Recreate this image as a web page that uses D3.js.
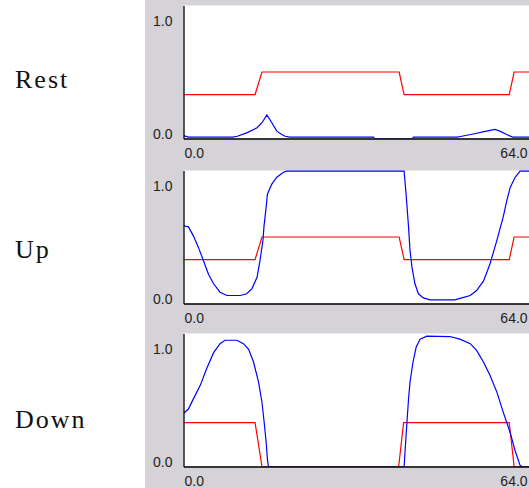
<!DOCTYPE html>
<html>
<head>
  <script src="https://cdnjs.cloudflare.com/ajax/libs/d3/7.8.5/d3.min.js" type="text/javascript"></script>
  <style>
    body { margin: 0; background: #fff; }
    svg { display: block; }
  </style>
</head>
<body>
  <svg id="chart" style="width:529px;height:488px;"></svg>
  <script>

// panel names
var panelNames = ["Rest", "Up", "Down"];

// red target curves [time, value]
var restTarget = [[0,0.39],[14.5,0.39],[15.9,0.59],[43.7,0.59],[44.7,0.39],[66,0.39],[67,0.59],[72,0.59]];
var upTarget   = [[0,0.39],[14.5,0.39],[15.9,0.59],[43.7,0.59],[44.7,0.39],[66,0.39],[67,0.59],[72,0.59]];
var downTarget = [[0,0.39],[14.5,0.39],[15.9,0],[43.6,0],[44.6,0.39],[66,0.39],[67,0],[72,0]];

// blue output curves [time, value]
var restOutput = [[0,0.025],[1,0.012],[10,0.012],[10.9,0.02],[12.8,0.05],[14.9,0.095],[15.9,0.14],[16.9,0.21],
  [17.9,0.14],[18.9,0.065],[19.9,0.035],[20.6,0.02],[21.5,0.012],[38.5,0.012],[38.7,0],[46.4,0],[46.6,0.012],
  [55.5,0.012],[56.4,0.02],[58.7,0.04],[61.4,0.065],[63.1,0.08],[64.1,0.065],[65.5,0.035],[66.7,0.012],[72,0.012]];

var upOutput = [[0,0.69],[1,0.68],[2,0.6],[3,0.5],[4.05,0.38],[5.06,0.26],[6.1,0.175],[7.4,0.1],[8.8,0.071],
  [11.5,0.071],[12.8,0.086],[13.85,0.13],[14.9,0.233],[15.5,0.38],[16.1,0.56],[16.3,0.68],[16.75,0.855],
  [17,0.97],[17.9,1.06],[18.9,1.12],[20.25,1.165],[20.9,1.175],[44.7,1.175],[45.1,0.97],[45.6,0.68],
  [45.9,0.47],[46.3,0.32],[46.9,0.175],[47.6,0.086],[48.6,0.05],[50,0.033],[55,0.033],[56.4,0.05],
  [58.1,0.071],[59.4,0.115],[60.8,0.2],[62.1,0.35],[63.5,0.56],[64.8,0.77],[65.5,0.91],[66.2,1.03],
  [67.2,1.12],[68.2,1.175],[72,1.175]];

var downOutput = [[0,0.47],[1,0.51],[2,0.6],[3.4,0.72],[4.7,0.87],[6.1,1.01],[7.4,1.09],[8.4,1.12],
  [10.8,1.12],[12.15,1.09],[13.2,1.04],[14.2,0.925],[15.2,0.75],[15.9,0.57],[16.35,0.39],[16.75,0.215],
  [17,0.068],[17.2,0],[44.7,0],[45.1,0.275],[45.6,0.6],[45.9,0.75],[46.5,0.925],[47.15,1.06],[47.95,1.13],
  [49.3,1.156],[54,1.153],[56,1.13],[58.1,1.09],[59.4,1.03],[60.8,0.925],[62.1,0.81],[63.5,0.66],
  [64.8,0.48],[66.2,0.3],[67.2,0.14],[68.2,0.01],[68.6,0],[72,0]];

var targets = [restTarget, upTarget, downTarget];
var outputs = [restOutput, upOutput, downOutput];

var yTicks = [0, 1];
var xTicks = [0, 64];

var svg = d3.select("#chart")
    .attr("width", 529)
    .attr("height", 488);

// gray frame behind the plots
svg.append("rect")
    .attr("x", 145).attr("y", 0)
    .attr("width", 384).attr("height", 488)
    .attr("fill", "#d6d3d8");

var plotLeft = 183.5;
var plotTops = [5.5, 170.5, 333.5];
var plotH = 133;
var labelY = [88, 258, 428];

var x = d3.scaleLinear()
    .domain([0, 71])
    .range([plotLeft, plotLeft + 71 * 4.935]);

panelNames.forEach(function(name, i) {
  var top = plotTops[i];
  var y = d3.scaleLinear()
      .domain([0, 1.18])
      .range([top + plotH, top]);

  var g = svg.append("g");

  g.append("rect")
      .attr("x", plotLeft).attr("y", top)
      .attr("width", 529 - plotLeft).attr("height", plotH)
      .attr("fill", "#fff");

  g.append("clipPath").attr("id", "clip" + i)
    .append("rect")
      .attr("x", plotLeft).attr("y", top - 1)
      .attr("width", 529 - plotLeft).attr("height", plotH + 1);

  var line = d3.line()
      .x(function(d) { return x(d[0]); })
      .y(function(d) { return y(d[1]); });

  g.append("path")
      .datum(targets[i])
      .attr("clip-path", "url(#clip" + i + ")")
      .attr("fill", "none")
      .attr("stroke", "#ff0000")
      .attr("stroke-width", 1.2)
      .attr("d", line);

  g.append("path")
      .datum(outputs[i])
      .attr("clip-path", "url(#clip" + i + ")")
      .attr("fill", "none")
      .attr("stroke", "#0000ff")
      .attr("stroke-width", 1.2)
      .attr("d", line);

  // axes
  var yAxis = g.append("g")
      .attr("transform", "translate(" + plotLeft + ",0)")
      .call(d3.axisLeft(y).tickValues(yTicks).tickSize(0).tickPadding(11).tickFormat(d3.format(".1f")));

  var xAxis = g.append("g")
      .attr("transform", "translate(0," + (top + plotH) + ")")
      .call(d3.axisBottom(x).tickValues(xTicks).tickSize(0).tickFormat(d3.format(".1f")));

  [yAxis, xAxis].forEach(function(ax) {
    ax.select(".domain").attr("stroke", "#000").attr("stroke-width", 1.3);
    ax.selectAll("text")
        .attr("fill", "#222")
        .style("font-family", "'Liberation Sans', Arial, sans-serif")
        .style("font-size", "14px");
  });
  yAxis.selectAll("text").attr("dy", "0").attr("y", 0);
  xAxis.selectAll("text").attr("text-anchor", "start").attr("dy", "0").attr("y", 19.5).attr("x", 0.5);

  svg.append("text")
      .attr("x", 15)
      .attr("y", labelY[i])
      .attr("fill", "#111")
      .style("font-family", "'Liberation Serif', 'Times New Roman', serif")
      .style("font-size", "26px")
      .style("letter-spacing", "2px")
      .text(name);
});

  </script>
</body>
</html>
